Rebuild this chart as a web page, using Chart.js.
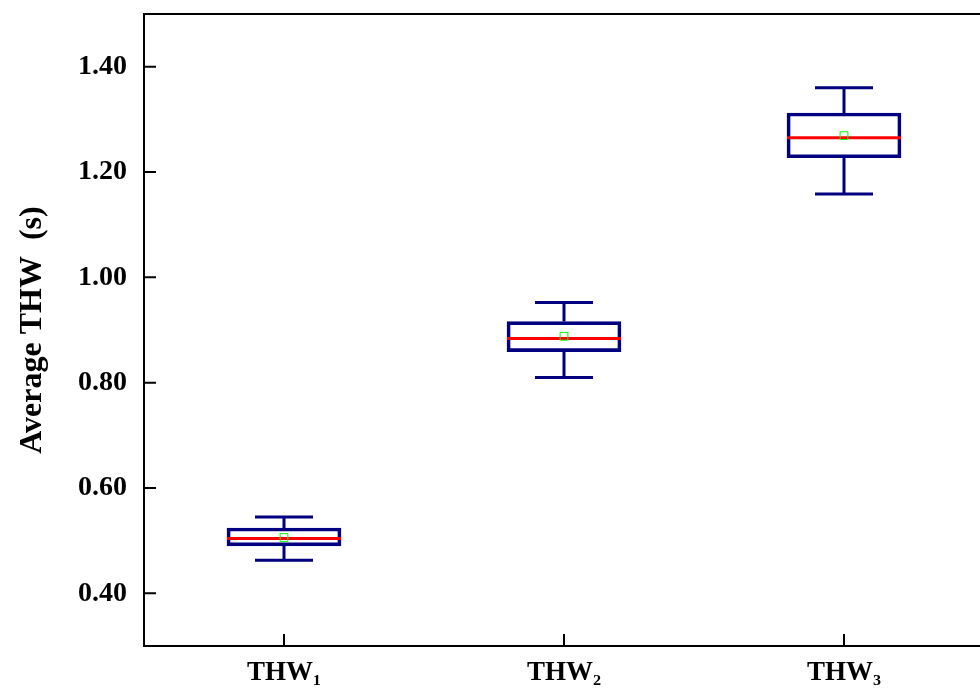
<!DOCTYPE html>
<html>
<head>
<meta charset="utf-8">
<script src="https://cdn.jsdelivr.net/npm/chart.js@4.4.1/dist/chart.umd.min.js"></script>
<style>
  html, body { margin: 0; padding: 0; background: #fff; overflow: hidden; }
  #wrap { width: 1000px; height: 688px; position: relative; }
</style>
</head>
<body>
<div id="wrap"><canvas id="chart"></canvas></div>
<script>
// box plot values
var categories = ['THW\u2081', 'THW\u2082', 'THW\u2083'];
var whiskerLow = [0.463, 0.810, 1.158];
var quartile1 = [0.490, 0.859, 1.227];
var medians = [0.504, 0.884, 1.265];
var quartile3 = [0.524, 0.916, 1.312];
var whiskerHigh = [0.545, 0.952, 1.360];
var means = [0.506, 0.888, 1.269];
var yTicks = [0.40, 0.60, 0.80, 1.00, 1.20, 1.40];

var navy = '#000080';
var fontFam = '"Liberation Serif", "Times New Roman", serif';

// whiskers + median, drawn right after the boxes
var boxParts = {
    id: 'boxParts',
    afterDatasetDraw: function(chart, args) {
        if (args.index !== 0) return;
        var ctx = chart.ctx;
        var xs = chart.scales.x, ys = chart.scales.y;
        var cap = 29;
        var half = 57;
        ctx.save();
        for (var i = 0; i < categories.length; i++) {
            var x = xs.getPixelForValue(i);
            ctx.strokeStyle = navy;
            ctx.lineWidth = 3;
            ctx.beginPath();
            ctx.moveTo(x, ys.getPixelForValue(quartile3[i]));
            ctx.lineTo(x, ys.getPixelForValue(whiskerHigh[i]));
            ctx.moveTo(x - cap, ys.getPixelForValue(whiskerHigh[i]));
            ctx.lineTo(x + cap, ys.getPixelForValue(whiskerHigh[i]));
            ctx.moveTo(x, ys.getPixelForValue(quartile1[i]));
            ctx.lineTo(x, ys.getPixelForValue(whiskerLow[i]));
            ctx.moveTo(x - cap, ys.getPixelForValue(whiskerLow[i]));
            ctx.lineTo(x + cap, ys.getPixelForValue(whiskerLow[i]));
            ctx.stroke();
            ctx.strokeStyle = '#ff0000';
            ctx.beginPath();
            ctx.moveTo(x - half, ys.getPixelForValue(medians[i]));
            ctx.lineTo(x + half, ys.getPixelForValue(medians[i]));
            ctx.stroke();
        }
        ctx.restore();
    }
};

// frame and inward ticks
var frame = {
    id: 'frame',
    afterDraw: function(chart) {
        var ctx = chart.ctx, a = chart.chartArea;
        var xs = chart.scales.x, ys = chart.scales.y;
        ctx.save();
        ctx.strokeStyle = '#000';
        ctx.lineWidth = 2;
        ctx.strokeRect(a.left, a.top, a.right - a.left, a.bottom - a.top);
        ctx.beginPath();
        yTicks.forEach(function(v) {
            var y = ys.getPixelForValue(v);
            ctx.moveTo(a.left, y);
            ctx.lineTo(a.left + 12, y);
        });
        for (var i = 0; i < categories.length; i++) {
            var x = xs.getPixelForValue(i);
            ctx.moveTo(x, a.bottom);
            ctx.lineTo(x, a.bottom - 12);
        }
        ctx.stroke();
        ctx.restore();
    }
};

var boxData = [];
for (var i = 0; i < categories.length; i++) {
    boxData.push([quartile1[i], quartile3[i]]);
}

var ctx = document.getElementById('chart').getContext('2d');
var chart = new Chart(ctx, {
    type: 'bar',
    data: {
        labels: categories,
        datasets: [{
            label: 'box',
            data: boxData,
            backgroundColor: 'rgba(0,0,0,0)',
            borderColor: navy,
            borderWidth: 3,
            borderSkipped: false,
            barThickness: 114,
            order: 2
        }, {
            type: 'line',
            label: 'mean',
            data: means,
            showLine: false,
            pointStyle: 'rect',
            pointRadius: 5.5,
            pointBorderWidth: 1,
            pointBorderColor: '#00ff00',
            pointBackgroundColor: 'rgba(0,0,0,0)',
            order: 1
        }]
    },
    options: {
        responsive: true,
        maintainAspectRatio: false,
        animation: false,
        layout: { padding: { top: 14, right: 16, left: 0, bottom: 0 } },
        plugins: {
            legend: { display: false },
            tooltip: { enabled: false }
        },
        scales: {
            x: {
                offset: true,
                grid: { display: false },
                border: { display: false },
                ticks: {
                    color: '#000',
                    padding: 3,
                    font: { family: fontFam, size: 27, weight: 'bold' }
                },
                afterFit: function(s) { s.height = 42; }
            },
            y: {
                min: 0.30,
                max: 1.50,
                grid: { display: false },
                border: { display: false },
                afterBuildTicks: function(s) {
                    s.ticks = yTicks.map(function(v) { return { value: v }; });
                },
                ticks: {
                    color: '#000',
                    padding: 9,
                    font: { family: fontFam, size: 28, weight: 'bold' },
                    callback: function(v) { return Number(v).toFixed(2); }
                },
                title: {
                    display: true,
                    text: 'Average THW  (s)',
                    color: '#000',
                    padding: { top: 14, bottom: 0 },
                    font: { family: fontFam, size: 32, weight: 'bold' }
                },
                afterFit: function(s) {
                    s.width = 144;
                    s.paddingTop = 0;
                    s.paddingBottom = 0;
                }
            }
        }
    },
    plugins: [boxParts, frame]
});
</script>
</body>
</html>
